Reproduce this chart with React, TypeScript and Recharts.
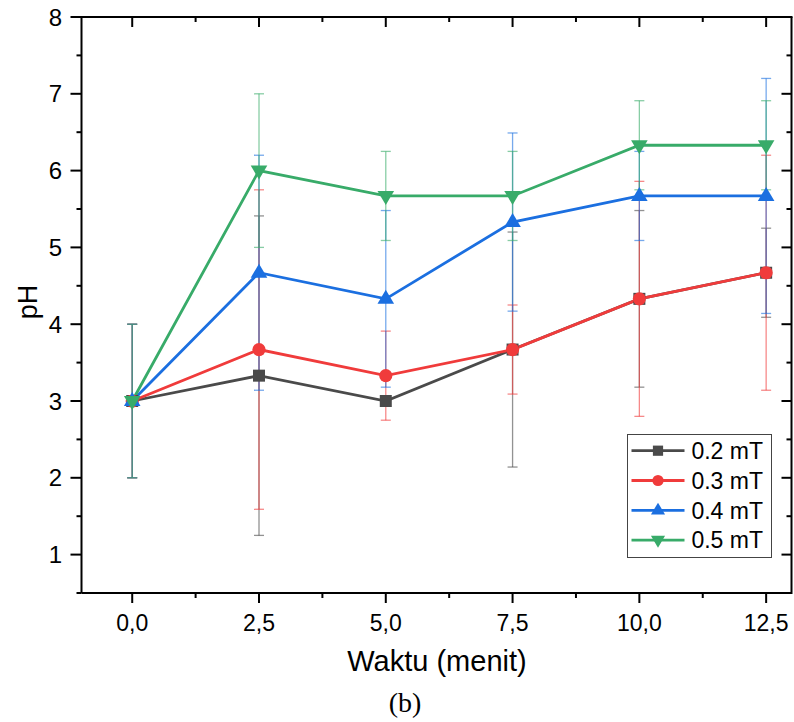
import { ErrorBar, Legend, Line, LineChart, XAxis, YAxis } from "recharts";

const times = [0, 2.5, 5, 7.5, 10, 12.5];

const ph02 = [3, 3.33, 3, 3.67, 4.33, 4.67];
const err02 = [1, 2.08, 0, 1.53, 1.15, 0.58];
const ph03 = [3, 3.67, 3.33, 3.67, 4.33, 4.67];
const err03 = [1, 2.08, 0.58, 0.58, 1.53, 1.53];
const ph04 = [3, 4.67, 4.33, 5.33, 5.67, 5.67];
const err04 = [1, 1.53, 1.15, 1.16, 0.58, 1.53];
const ph05 = [3, 6, 5.67, 5.67, 6.33, 6.33];
const err05 = [1, 1, 0.58, 0.58, 0.58, 0.58];

const seriesNames = ["0.2 mT", "0.3 mT", "0.4 mT", "0.5 mT"];

const xMajorTicks = [0, 2.5, 5, 7.5, 10, 12.5];
const xMinorTicks = [1.25, 3.75, 6.25, 8.75, 11.25];
const yMajorTicks = [1, 2, 3, 4, 5, 6, 7, 8];
const yMinorTicks = [0.5, 1.5, 2.5, 3.5, 4.5, 5.5, 6.5, 7.5];

const X_MIN = -1;
const X_MAX = 13;
const Y_MIN = 0.5;
const Y_MAX = 8;

// chart box
const W = 794;
const H = 722;
const M_TOP = 17;
const M_RIGHT = 2.5;
const Y_AXIS_W = 81.5;
const X_AXIS_H = 129;
const PLOT_L = Y_AXIS_W;
const PLOT_R = W - M_RIGHT;
const PLOT_T = M_TOP;
const PLOT_B = H - X_AXIS_H;

const rows = times.map((t, i) => ({
  t,
  s02: ph02[i],
  e02: err02[i],
  s03: ph03[i],
  e03: err03[i],
  s04: ph04[i],
  e04: err04[i],
  s05: ph05[i],
  e05: err05[i],
}));

type Shape = "square" | "circle" | "up" | "down";

const series: { key: string; err: string; color: string; shape: Shape }[] = [
  { key: "s02", err: "e02", color: "#4a4a4a", shape: "square" },
  { key: "s03", err: "e03", color: "#f03b3b", shape: "circle" },
  { key: "s04", err: "e04", color: "#1b6fe0", shape: "up" },
  { key: "s05", err: "e05", color: "#38ab69", shape: "down" },
];

const FONT = "'Liberation Sans', Arial, Helvetica, sans-serif";

function Marker({ shape, cx, cy, fill, s = 1 }: { shape: Shape; cx: number; cy: number; fill: string; s?: number }) {
  if (shape === "square")
    return <rect x={cx - 6 * s} y={cy - 6 * s} width={12 * s} height={12 * s} fill={fill} />;
  if (shape === "circle") return <circle cx={cx} cy={cy} r={6.6 * s} fill={fill} />;
  if (shape === "up")
    return (
      <polygon
        points={`${cx},${cy - 9 * s} ${cx + 8.3 * s},${cy + 5 * s} ${cx - 8.3 * s},${cy + 5 * s}`}
        fill={fill}
      />
    );
  return (
    <polygon
      points={`${cx - 8.3 * s},${cy - 5 * s} ${cx + 8.3 * s},${cy - 5 * s} ${cx},${cy + 9 * s}`}
      fill={fill}
    />
  );
}

const fmt = (v: number) => v.toFixed(1).replace(".", ",");

function BottomTick(props: any) {
  const { x, y, payload } = props;
  const major = xMajorTicks.includes(payload.value);
  return (
    <g>
      <line x1={x} x2={x} y1={y} y2={y + (major ? 10 : 5)} stroke="#000" strokeWidth={2} />
      {major && (
        <text x={x} y={y + 38} textAnchor="middle" fontSize={23} fontFamily={FONT} fill="#000">
          {fmt(payload.value)}
        </text>
      )}
    </g>
  );
}

function LeftTick(props: any) {
  const { x, y, payload } = props;
  const major = yMajorTicks.includes(payload.value);
  return (
    <g>
      <line x1={x} x2={x - (major ? 11 : 5)} y1={y} y2={y} stroke="#000" strokeWidth={2} />
      {major && (
        <text x={x - 19.5} y={y + 8.5} textAnchor="end" fontSize={24} fontFamily={FONT} fill="#000">
          {payload.value}
        </text>
      )}
    </g>
  );
}

// frame on top and right with inward ticks, placed on the same plot box as the chart
const fx = (v: number) => PLOT_L + ((v - X_MIN) / (X_MAX - X_MIN)) * (PLOT_R - PLOT_L);
const fy = (v: number) => PLOT_B - ((v - Y_MIN) / (Y_MAX - Y_MIN)) * (PLOT_B - PLOT_T);

function Frame() {
  return (
    <g stroke="#000" strokeWidth={2}>
      <line x1={PLOT_L - 1} x2={PLOT_R + 1} y1={PLOT_T} y2={PLOT_T} />
      <line x1={PLOT_R} x2={PLOT_R} y1={PLOT_T} y2={PLOT_B + 1} />
      {xMajorTicks.map((t) => (
        <line key={`tm${t}`} x1={fx(t)} x2={fx(t)} y1={PLOT_T} y2={PLOT_T + 10} />
      ))}
      {xMinorTicks.map((t) => (
        <line key={`tn${t}`} x1={fx(t)} x2={fx(t)} y1={PLOT_T} y2={PLOT_T + 5} />
      ))}
      {yMajorTicks.map((v) => (
        <line key={`rm${v}`} x1={PLOT_R} x2={PLOT_R - 10} y1={fy(v)} y2={fy(v)} />
      ))}
      {yMinorTicks.map((v) => (
        <line key={`rn${v}`} x1={PLOT_R} x2={PLOT_R - 5} y1={fy(v)} y2={fy(v)} />
      ))}
    </g>
  );
}

function LegendBox(props: any) {
  const payload = (props.payload || []).filter((p: any) => seriesNames.includes(p.value));
  return (
    <svg width={145} height={124}>
      <rect x={0.5} y={0.5} width={144} height={123} fill="#fff" stroke="#444" strokeWidth={1} />
      {payload.map((p: any, i: number) => {
        const cy = 16.7 + i * 29.8;
        const sr = series[i];
        return (
          <g key={p.value}>
            <line x1={4.5} x2={57.5} y1={cy} y2={cy} stroke={sr.color} strokeWidth={2.8} />
            <Marker shape={sr.shape} cx={31} cy={cy} fill={sr.color} s={0.85} />
            <text x={64.4} y={cy + 8.2} fontSize={23} fontFamily={FONT} fill="#000">
              {p.value}
            </text>
          </g>
        );
      })}
    </svg>
  );
}

export default function App() {
  return (
    <div style={{ position: "absolute", left: 0, top: 0, width: W, height: H, background: "#fff" }}>
      <LineChart width={W} height={H} data={rows} margin={{ top: M_TOP, right: M_RIGHT, left: 0, bottom: 0 }}>
        <XAxis
          dataKey="t"
          type="number"
          domain={[X_MIN, X_MAX]}
          allowDataOverflow
          ticks={[...xMajorTicks, ...xMinorTicks]}
          interval={0}
          height={X_AXIS_H}
          tickSize={0}
          tickMargin={0}
          tickLine={false}
          axisLine={{ stroke: "#000", strokeWidth: 2 }}
          tick={<BottomTick />}
        />
        <YAxis
          type="number"
          domain={[Y_MIN, Y_MAX]}
          allowDataOverflow
          ticks={[...yMajorTicks, ...yMinorTicks]}
          interval={0}
          width={Y_AXIS_W}
          tickSize={0}
          tickMargin={0}
          tickLine={false}
          axisLine={{ stroke: "#000", strokeWidth: 2 }}
          tick={<LeftTick />}
        />
        {series.map((sr, i) => (
          <Line
            key={sr.key}
            type="linear"
            dataKey={sr.key}
            name={seriesNames[i]}
            stroke={sr.color}
            strokeWidth={2.8}
            isAnimationActive={false}
            activeDot={false}
            dot={(p: any) => (
              <Marker key={`${sr.key}-${p.index}`} shape={sr.shape} cx={p.cx} cy={p.cy} fill={sr.color} />
            )}
          >
            <ErrorBar
              dataKey={sr.err}
              direction="y"
              width={5}
              stroke={sr.color}
              strokeOpacity={0.6}
              strokeWidth={1.3}
              isAnimationActive={false}
            />
          </Line>
        ))}
        <Legend
          layout="vertical"
          align="center"
          verticalAlign="middle"
          content={<LegendBox />}
          wrapperStyle={{ position: "absolute", left: 627, top: 434, width: 145, height: 124 }}
        />
      </LineChart>
      <svg width={W} height={H} style={{ position: "absolute", left: 0, top: 0, pointerEvents: "none" }}>
        <Frame />
        <text
          transform="translate(37,302) rotate(-90)"
          textAnchor="middle"
          fontSize={27}
          fontFamily={FONT}
          fill="#000"
        >
          pH
        </text>
        <text x={437} y={671} textAnchor="middle" fontSize={29} fontFamily={FONT} fill="#000">
          Waktu (menit)
        </text>
        <text
          x={405}
          y={712}
          textAnchor="middle"
          fontSize={28}
          fontFamily="'Liberation Serif', 'Times New Roman', serif"
          fill="#000"
        >
          (b)
        </text>
      </svg>
    </div>
  );
}
